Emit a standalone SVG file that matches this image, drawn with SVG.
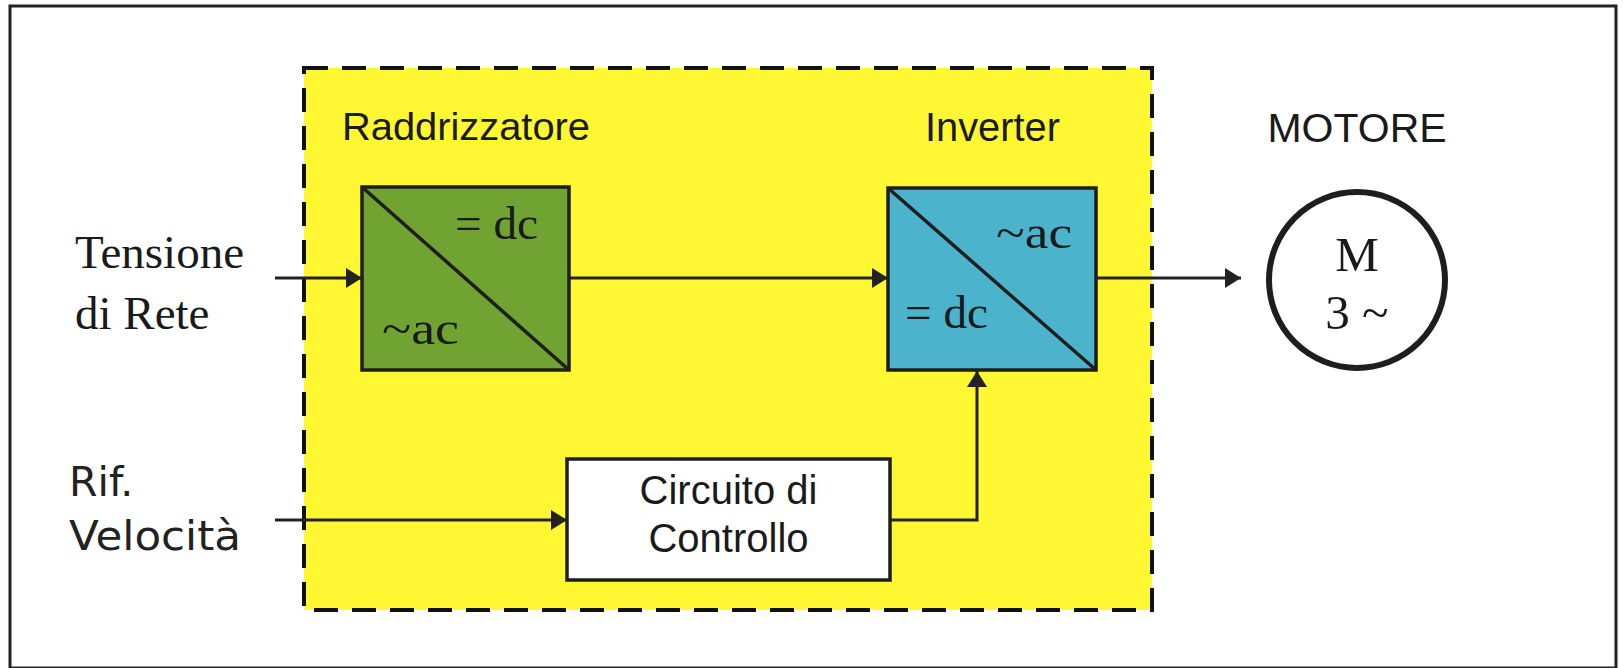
<svg xmlns="http://www.w3.org/2000/svg" width="1623" height="668" viewBox="0 0 1623 668">
<style>
.serif{font-family:"Liberation Serif","Times New Roman",serif;fill:#1a1a1a}
.sans{font-family:"Liberation Sans",Arial,sans-serif;fill:#1a1a1a}
.vsans{font-family:"DejaVu Sans",Verdana,sans-serif;fill:#222}
.box{stroke:#1e1e1e;stroke-width:3.5}
.wire{fill:none;stroke:#222;stroke-width:3}
</style>
<defs>
<marker id="arr" viewBox="0 0 16 20" refX="16" refY="10" markerWidth="16" markerHeight="20" markerUnits="userSpaceOnUse" orient="auto">
<path d="M0,0 L16,10 L0,20 Z" fill="#222"/>
</marker>
</defs>
<rect x="0" y="0" width="1623" height="668" fill="#fff"/>
<rect x="10" y="6" width="1606" height="662" fill="none" stroke="#222" stroke-width="3"/>
<g id="converter-area">
<rect x="304" y="68" width="848" height="542" fill="#fef731" stroke="#111" stroke-width="4" stroke-dasharray="24 14"/>
</g>
<g id="labels">
<text class="serif" x="75" y="268" font-size="47">Tensione</text>
<text class="serif" x="75" y="329" font-size="47">di Rete</text>
<text class="vsans" x="69" y="496" font-size="41">Rif.</text>
<text class="vsans" x="69" y="550" font-size="41" textLength="172" lengthAdjust="spacingAndGlyphs">Velocità</text>
</g>
<g id="raddrizzatore">
<text class="sans" x="342" y="140" font-size="38" textLength="248" lengthAdjust="spacingAndGlyphs">Raddrizzatore</text>
<rect class="box" x="362" y="187" width="207" height="183" fill="#70a332"/>
<line x1="362" y1="187" x2="569" y2="370" stroke="#1e1e1e" stroke-width="3.5"/>
<text class="serif" x="455" y="239" font-size="46" textLength="83" lengthAdjust="spacingAndGlyphs">= dc</text>
<text class="serif" x="382" y="344" font-size="46" textLength="77" lengthAdjust="spacingAndGlyphs">~ac</text>
</g>
<g id="inverter">
<text class="sans" x="925" y="141" font-size="40" textLength="135" lengthAdjust="spacingAndGlyphs">Inverter</text>
<rect class="box" x="888" y="188" width="208" height="182" fill="#4bb3cb"/>
<line x1="888" y1="188" x2="1096" y2="370" stroke="#1e1e1e" stroke-width="3.5"/>
<text class="serif" x="996" y="248" font-size="46" textLength="76" lengthAdjust="spacingAndGlyphs">~ac</text>
<text class="serif" x="905" y="328" font-size="46" textLength="83" lengthAdjust="spacingAndGlyphs">= dc</text>
</g>
<g id="controllo">
<rect class="box" x="567" y="459" width="323" height="121" fill="#fff"/>
<text class="sans" x="728.5" y="504" font-size="40" text-anchor="middle">Circuito di</text>
<text class="sans" x="728.5" y="552" font-size="40" text-anchor="middle">Controllo</text>
</g>
<g id="motore">
<text class="sans" x="1357" y="142" font-size="41" text-anchor="middle">MOTORE</text>
<circle cx="1357" cy="280" r="88" fill="#fff" stroke="#1e1e1e" stroke-width="6"/>
<text class="serif" x="1357" y="271" font-size="49" text-anchor="middle">M</text>
<text class="serif" x="1357" y="329" font-size="49" text-anchor="middle">3 ~</text>
</g>
<g id="connectors">
<line class="wire" x1="275" y1="278" x2="362" y2="278" marker-end="url(#arr)"/>
<line class="wire" x1="569" y1="278" x2="888" y2="278" marker-end="url(#arr)"/>
<line class="wire" x1="1096" y1="278" x2="1241" y2="278" marker-end="url(#arr)"/>
<line class="wire" x1="275" y1="520" x2="567" y2="520" marker-end="url(#arr)"/>
<polyline class="wire" points="890,520 977,520 977,371" marker-end="url(#arr)"/>
</g>
</svg>
